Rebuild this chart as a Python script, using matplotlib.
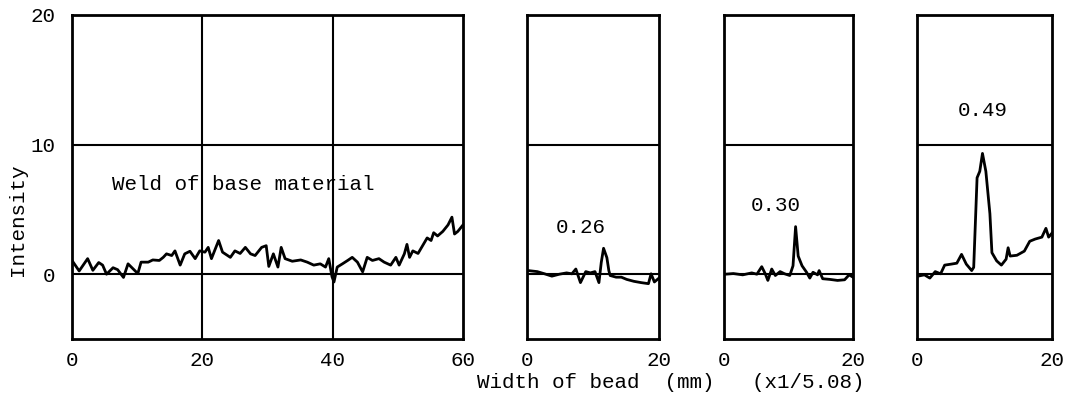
import matplotlib.pyplot as plt
import matplotlib

matplotlib.rcParams['font.family'] = ['Liberation Mono', 'DejaVu Sans Mono']

# ── data ─────────────────────────────────────────────────────────────────────
base_x = [0, 1.1, 2.4, 3.2, 4.1, 4.7, 5.3, 6.3, 7.0, 7.9, 8.6, 9.4, 10.1, 10.6,
          11.7, 12.4, 13.4, 14.0, 14.5, 15.3, 15.8, 16.6, 17.3, 18.1, 18.9, 19.6,
          20.4, 20.9, 21.4, 22.5, 23.1, 24.3, 25.0, 25.8, 26.6, 27.4, 28.1, 29.1,
          29.8, 30.2, 30.9, 31.6, 32.1, 32.7, 33.8, 35.1, 36.1, 37.1, 38.1, 38.9,
          39.4, 39.9, 40.2, 40.7, 41.5, 42.3, 43.0, 43.8, 44.6, 45.3, 46.1, 47.1,
          47.9, 48.9, 49.7, 50.2, 51.0, 51.4, 51.8, 52.3, 53.1, 53.8, 54.5, 55.1,
          55.5, 56.1, 56.9, 57.7, 58.3, 58.7, 59.2, 60.0]
base_y = [1.06, 0.25, 1.2, 0.3, 0.9, 0.7, 0.0, 0.5, 0.35, -0.25, 0.8, 0.4, 0.05, 0.93,
          0.93, 1.1, 1.06, 1.3, 1.57, 1.44, 1.8, 0.7, 1.57, 1.77, 1.2, 1.8,
          1.7, 2.07, 1.2, 2.6, 1.7, 1.3, 1.8, 1.6, 2.07, 1.57, 1.44, 2.07,
          2.2, 0.6, 1.57, 0.55, 2.07, 1.2, 1.0, 1.1, 0.93, 0.7, 0.8, 0.55,
          1.2, -0.2, -0.6, 0.55, 0.8, 1.06, 1.3, 0.93, 0.18, 1.3, 1.06, 1.2,
          0.93, 0.7, 1.3, 0.7, 1.57, 2.3, 1.3, 1.8, 1.6, 2.2, 2.8, 2.6,
          3.2, 2.95, 3.3, 3.8, 4.4, 3.1, 3.3, 3.8]

s026_x = [0.15, 1.55, 2.66, 3.77, 4.9, 6.0, 6.8, 7.4, 8.1, 8.9, 9.6, 10.3, 10.9, 11.25,
          11.6, 12.1, 12.4, 12.6, 13.5, 14.3, 15.1, 16.2, 17.3, 18.4, 18.8, 19.3, 20]
s026_y = [0.28, 0.2, 0.03, -0.15, 0.0, 0.1, 0.03, 0.4, -0.65, 0.2, 0.1, 0.2, -0.65, 0.9,
          2.0, 1.28, 0.28, -0.1, -0.23, -0.23, -0.4, -0.55, -0.65, -0.73, 0.03, -0.6, -0.3]

s030_x = [0.2, 1.45, 2.9, 4.3, 5.1, 5.85, 6.4, 6.8, 7.4, 7.96, 8.7, 9.4, 10.2, 10.7,
          11.1, 11.5, 12.1, 12.8, 13.3, 13.8, 14.5, 14.75, 15.3, 16.4, 17.6, 18.7, 19.4, 20]
s030_y = [0.0, 0.05, -0.05, 0.1, 0.0, 0.58, 0.03, -0.48, 0.4, -0.1, 0.2, 0.03, -0.1, 0.65,
          3.67, 1.4, 0.65, 0.15, -0.3, 0.15, -0.05, 0.28, -0.35, -0.4, -0.48, -0.43, -0.05, -0.23]

s049_x = [0.15, 1.1, 1.9, 2.7, 3.5, 4.1, 5.1, 5.9, 6.6, 7.3, 8.1, 8.4, 8.9, 9.3, 9.7,
          10.2, 10.8, 11.1, 11.8, 12.5, 13.2, 13.5, 13.8, 14.8, 15.9, 16.7, 17.5, 18.5,
          19.1, 19.5, 20]
s049_y = [-0.15, -0.05, -0.3, 0.2, 0.03, 0.7, 0.78, 0.85, 1.53, 0.78, 0.28, 0.53, 7.44,
          7.94, 9.32, 7.94, 4.67, 1.66, 1.03, 0.7, 1.16, 2.04, 1.4, 1.46, 1.78, 2.54, 2.71,
          2.86, 3.54, 2.86, 3.17]

small_x = [s026_x, s030_x, s049_x]
small_y = [s026_y, s030_y, s049_y]
small_labels = ['0.26', '0.30', '0.49']
small_label_pos = [(8.2, 3.6), (8.1, 5.3), (9.8, 12.6)]

# ── figure ───────────────────────────────────────────────────────────────────
W, H = 1071, 401
FS = 15
fig = plt.figure(figsize=(W / 100, H / 100), dpi=100)


def px_axes(left, right, top=15, bottom=339):
    return fig.add_axes([left / W, (H - bottom) / H, (right - left) / W, (bottom - top) / H])


def style(ax, xmax, xticks):
    ax.set_xlim(0, xmax)
    ax.set_ylim(-5, 20)
    for s in ax.spines.values():
        s.set_linewidth(2)
    ax.axhline(0, color='black', lw=1.5, zorder=1)
    ax.axhline(10, color='black', lw=1.5, zorder=1)
    ax.set_xticks(xticks)
    ax.tick_params(axis='both', length=0, labelsize=FS, pad=9)


ax1 = px_axes(72, 463)
style(ax1, 60, [0, 20, 40, 60])
ax1.axvline(20, color='black', lw=1.5, zorder=1)
ax1.axvline(40, color='black', lw=1.5, zorder=1)
ax1.set_yticks([0, 10, 20])
ax1.tick_params(axis='y', pad=12)
ax1.plot(base_x, base_y, color='black', lw=2)
ax1.text(6.2, 6.9, 'Weld of base material', fontsize=FS, va='center', ha='left')

for (l, r), xs, ys, lab, pos in zip([(527, 659), (724, 853), (917, 1052)],
                                    small_x, small_y, small_labels, small_label_pos):
    ax = px_axes(l, r)
    style(ax, 20, [0, 20])
    ax.set_yticks([])
    ax.plot(xs, ys, color='black', lw=2)
    ax.text(pos[0], pos[1], lab, fontsize=FS, ha='center', va='center')

fig.text(18 / W, 1 - 220 / H, 'Intensity', rotation=90, fontsize=FS, ha='center', va='center')
fig.text(477 / W, 1 - 383 / H, 'Width of bead  (mm)   (x1/5.08)', fontsize=FS,
         ha='left', va='center')

plt.savefig('out.png', dpi=100)
plt.close()
